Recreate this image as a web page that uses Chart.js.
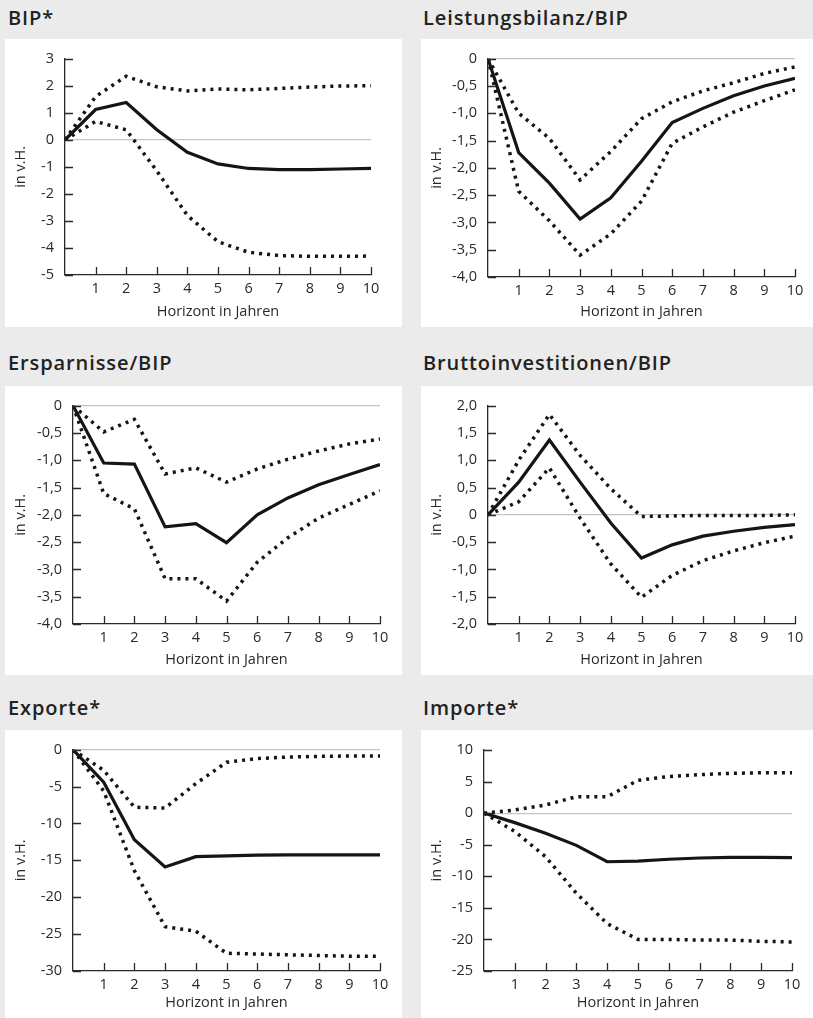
<!DOCTYPE html>
<html>
<head>
<meta charset="utf-8">
<script src="https://cdn.jsdelivr.net/npm/chart.js@4.4.0/dist/chart.umd.min.js"></script>
<style>
  body { margin: 0; background: #ebebeb; width: 813px; height: 1018px; position: relative; overflow: hidden; font-family: "Open Sans", sans-serif; }
  .title { position: absolute; font-size: 20px; font-weight: 600; letter-spacing: 0.9px; color: #222; line-height: 1; transform: translateY(-50%); }
  .box { position: absolute; background: #fff; }
  canvas { display: block; }
</style>
</head>
<body>
<div class="title" style="left:8px;top:18px">BIP*</div>
<div class="title" style="left:423px;top:18px">Leistungsbilanz/BIP</div>
<div class="title" style="left:8px;top:363px">Ersparnisse/BIP</div>
<div class="title" style="left:423px;top:363px">Bruttoinvestitionen/BIP</div>
<div class="title" style="left:8px;top:708px">Exporte*</div>
<div class="title" style="left:423px;top:708px">Importe*</div>

<div class="box" style="left:5px;top:39px"><canvas id="c1" width="397" height="288"></canvas></div>
<div class="box" style="left:421px;top:39px"><canvas id="c2" width="392" height="288"></canvas></div>
<div class="box" style="left:5px;top:386px"><canvas id="c3" width="397" height="289"></canvas></div>
<div class="box" style="left:421px;top:386px"><canvas id="c4" width="392" height="289"></canvas></div>
<div class="box" style="left:5px;top:730px"><canvas id="c5" width="397" height="288"></canvas></div>
<div class="box" style="left:421px;top:730px"><canvas id="c6" width="392" height="288"></canvas></div>

<script>
/* DATEN */
const years = [0, 1, 2, 3, 4, 5, 6, 7, 8, 9, 10];

const bipMid = [0, 1.12, 1.38, 0.37, -0.46, -0.89, -1.06, -1.1, -1.1, -1.08, -1.06];
const bipHi  = [0, 1.6, 2.35, 1.96, 1.81, 1.88, 1.85, 1.9, 1.95, 1.99, 2.0];
const bipLo  = [0, 0.68, 0.37, -1.15, -2.8, -3.77, -4.16, -4.28, -4.31, -4.31, -4.3];

const lbMid = [0, -1.72, -2.28, -2.94, -2.55, -1.88, -1.17, -0.91, -0.68, -0.5, -0.36];
const lbHi  = [0, -1.0, -1.46, -2.22, -1.7, -1.1, -0.79, -0.59, -0.44, -0.27, -0.15];
const lbLo  = [0, -2.43, -2.97, -3.6, -3.21, -2.61, -1.55, -1.25, -0.98, -0.77, -0.57];

const spMid = [0, -1.05, -1.07, -2.22, -2.16, -2.51, -2.0, -1.69, -1.45, -1.26, -1.08];
const spHi  = [0, -0.48, -0.25, -1.25, -1.14, -1.4, -1.16, -0.98, -0.83, -0.7, -0.61];
const spLo  = [0, -1.61, -1.89, -3.17, -3.17, -3.58, -2.87, -2.42, -2.06, -1.81, -1.56];

const invMid = [0, 0.6, 1.37, 0.6, -0.15, -0.79, -0.55, -0.39, -0.3, -0.23, -0.18];
const invHi  = [0, 1.0, 1.84, 1.09, 0.48, -0.03, -0.02, -0.01, -0.01, -0.01, 0.0];
const invLo  = [0, 0.24, 0.86, -0.06, -0.9, -1.51, -1.11, -0.84, -0.66, -0.51, -0.39];

const expMid = [0, -4.4, -12.2, -15.9, -14.5, -14.4, -14.3, -14.25, -14.25, -14.25, -14.25];
const expHi  = [0, -2.8, -7.8, -7.9, -4.6, -1.7, -1.2, -1.0, -0.9, -0.86, -0.86];
const expLo  = [0, -5.6, -16.4, -24.0, -24.6, -27.6, -27.7, -27.8, -27.9, -28.0, -28.0];

const impMid = [0, -1.5, -3.2, -5.1, -7.7, -7.6, -7.3, -7.1, -7.0, -7.0, -7.05];
const impHi  = [0, 0.5, 1.3, 2.6, 2.6, 5.2, 5.8, 6.1, 6.3, 6.4, 6.4];
const impLo  = [0, -2.9, -6.9, -12.7, -17.5, -20.0, -20.0, -20.1, -20.1, -20.3, -20.4];

const yTitle = "in v.H.";
const xTitle = "Horizont in Jahren";

/* STIL */
const ink = "#151515";
const axisCol = "#2a2a2a";
Chart.defaults.font.family = "'Open Sans', sans-serif";
Chart.defaults.font.size = 14.5;
Chart.defaults.color = "#2a2a2a";

// kleine Striche nach innen
const innerTicks = {
    id: "innerTicks",
    afterDraw(chart) {
        const { ctx, scales: { x, y } } = chart;
        ctx.save();
        ctx.strokeStyle = axisCol;
        ctx.lineWidth = 1.3;
        ctx.beginPath();
        y.ticks.forEach(t => {
            const py = Math.round(y.getPixelForValue(t.value)) + 0.5;
            ctx.moveTo(x.left, py);
            ctx.lineTo(x.left + 8, py);
        });
        x.ticks.forEach(t => {
            if (t.value === 0) return;
            const px = Math.round(x.getPixelForValue(t.value)) + 0.5;
            ctx.moveTo(px, y.bottom);
            ctx.lineTo(px, y.bottom - 8);
        });
        ctx.stroke();
        ctx.restore();
    }
};

function series(data, dotted) {
    return {
        data: years.map((v, i) => ({ x: v, y: data[i] })),
        borderColor: ink,
        borderWidth: dotted ? 3.5 : 3.2,
        borderDash: dotted ? [3, 5] : [],
        borderCapStyle: "butt",
        borderJoinStyle: "miter",
        pointRadius: 0,
        tension: 0,
        fill: false
    };
}

function makeChart(id, mid, hi, lo, yMin, yMax, step, decimals, pad) {
    new Chart(document.getElementById(id), {
        type: "line",
        data: { datasets: [series(mid, false), series(hi, true), series(lo, true)] },
        options: {
            responsive: false,
            animation: false,
            layout: { padding: { left: 0, top: pad.t, right: pad.r, bottom: 0 } },
            plugins: { legend: { display: false }, tooltip: { enabled: false } },
            scales: {
                x: {
                    type: "linear",
                    min: 0,
                    max: 10,
                    afterFit: s => { s.height = pad.b; },
                    border: { display: true, color: axisCol, width: 1.3 },
                    grid: { display: false, drawTicks: false },
                    ticks: {
                        stepSize: 1,
                        padding: 5,
                        maxRotation: 0,
                        autoSkip: false,
                        callback: v => (v === 0 ? "" : v)
                    },
                    title: { display: true, text: xTitle, padding: { top: 0, bottom: 6 } }
                },
                y: {
                    min: yMin,
                    max: yMax,
                    afterFit: s => { s.width = pad.l; },
                    border: { display: true, color: axisCol, width: 1.3 },
                    grid: {
                        drawTicks: false,
                        lineWidth: 1.2,
                        color: c => (c.tick && c.tick.value === 0 ? "#c4c4c4" : "rgba(0,0,0,0)")
                    },
                    ticks: {
                        stepSize: step,
                        padding: 11,
                        autoSkip: false,
                        callback: v => (v === 0 ? "0" : v.toFixed(decimals).replace(".", ","))
                    },
                    title: { display: true, text: yTitle, padding: { top: 7, bottom: 0 } }
                }
            }
        },
        plugins: [innerTicks]
    });
}

makeChart("c1", bipMid, bipHi, bipLo, -5, 3, 1, 0, { l: 60, t: 14, r: 31, b: 52 });
makeChart("c2", lbMid, lbHi, lbLo, -4, 0, 0.5, 1, { l: 67, t: 17, r: 18, b: 50 });
makeChart("c3", spMid, spHi, spLo, -4, 0, 0.5, 1, { l: 68, t: 17, r: 22, b: 51 });
makeChart("c4", invMid, invHi, invLo, -2, 2, 0.5, 1, { l: 67, t: 17, r: 18, b: 51 });
makeChart("c5", expMid, expHi, expLo, -30, 0, 5, 0, { l: 68, t: 19, r: 22, b: 47 });
makeChart("c6", impMid, impHi, impLo, -25, 10, 5, 0, { l: 63, t: 20, r: 21, b: 47 });
</script>
</body>
</html>
